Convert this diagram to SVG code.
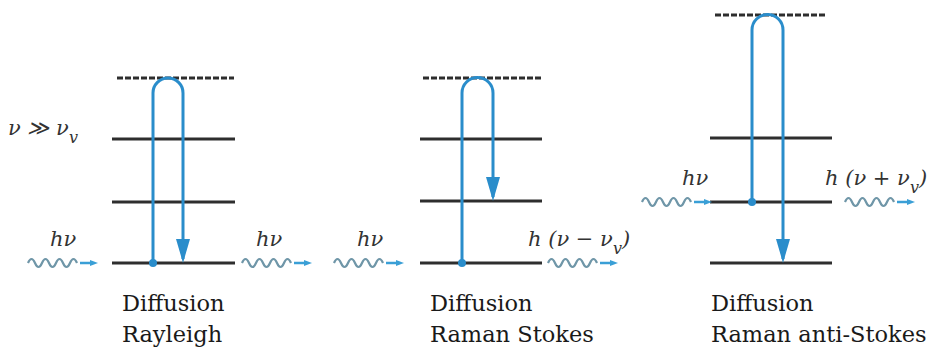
<svg xmlns="http://www.w3.org/2000/svg" width="932" height="351" viewBox="0 0 932 351">
<style>
.lvl{stroke:#2e2e2e;stroke-width:3;fill:none}
.vir{stroke:#2e2e2e;stroke-width:3;stroke-dasharray:6 2;fill:none}
.tr{stroke:#2a8dcb;stroke-width:3;fill:none}
.dot{fill:#2a8dcb}
.wv{stroke:#6f96a8;stroke-width:2.2;fill:none}
.wa{stroke:#3a9fd6;stroke-width:2.5;fill:none}
.lab{font-family:'DejaVu Serif','Liberation Serif','Times New Roman',serif;font-style:italic;font-size:21px;fill:#333}
.cap{font-family:'DejaVu Serif','Liberation Serif','Times New Roman',serif;font-size:22.5px;fill:#1a1a1a}
</style>
<defs>
<marker id="ah" markerUnits="userSpaceOnUse" markerWidth="26" markerHeight="14" refX="20" refY="7" orient="auto">
<path d="M0,0 L24,7 L0,14 z" fill="#2a8dcb"/>
</marker>
<g id="wave">
<path class="wv" d="M0,0 q3.5,-8 7,0 t7,0 t7,0 t7,0 t7,0 t7,0 t7,0"/>
<line class="wa" x1="52" y1="0" x2="64" y2="0"/>
<path d="M62,-3 L70,0 L62,3 z" fill="#3a9fd6"/>
</g>
</defs>

<g id="rayleigh">
<line class="vir" x1="117" y1="78" x2="234" y2="78"/>
<line class="lvl" x1="112" y1="139" x2="235" y2="139"/>
<line class="lvl" x1="112" y1="202" x2="235" y2="202"/>
<line class="lvl" x1="112" y1="263" x2="235" y2="263"/>
<text class="lab" x="8" y="135">ν ≫ ν<tspan font-size="16" dy="8">v</tspan></text>
<text class="lab" x="50" y="246">hν</text>
<text class="lab" x="256" y="246">hν</text>
<text class="cap" x="122" y="311">Diffusion</text>
<text class="cap" x="122" y="342">Rayleigh</text>
</g>

<g id="stokes">
<line class="vir" x1="423" y1="78" x2="542" y2="78"/>
<line class="lvl" x1="420" y1="139" x2="542" y2="139"/>
<line class="lvl" x1="420" y1="201" x2="542" y2="201"/>
<line class="lvl" x1="420" y1="263" x2="542" y2="263"/>
<text class="lab" x="357" y="246">hν</text>
<text class="lab" x="528" y="246">h (ν − ν<tspan font-size="16" dy="8">v</tspan><tspan dy="-8">)</tspan></text>
<text class="cap" x="430" y="311">Diffusion</text>
<text class="cap" x="430" y="342">Raman Stokes</text>
</g>

<g id="antistokes">
<line class="vir" x1="715" y1="15" x2="826" y2="15"/>
<line class="lvl" x1="710" y1="138" x2="832" y2="138"/>
<line class="lvl" x1="710" y1="202" x2="832" y2="202"/>
<line class="lvl" x1="710" y1="263" x2="832" y2="263"/>
<text class="lab" x="682" y="185">hν</text>
<text class="lab" x="825" y="185">h (ν + ν<tspan font-size="16" dy="8">v</tspan><tspan dy="-8">)</tspan></text>
<text class="cap" x="711" y="311">Diffusion</text>
<text class="cap" x="711" y="342">Raman anti-Stokes</text>
</g>

<g id="connectors">
<path class="tr" d="M153,263 V93 A15,15 0 0 1 183,93 V259" marker-end="url(#ah)"/>
<circle class="dot" cx="153" cy="263" r="4"/>
<path class="tr" d="M462,263 V93 A15.5,15.5 0 0 1 493,93 V197" marker-end="url(#ah)"/>
<circle class="dot" cx="462" cy="263" r="4"/>
<path class="tr" d="M752,202 V30 A15.5,15.5 0 0 1 783,30 V259" marker-end="url(#ah)"/>
<circle class="dot" cx="752" cy="202" r="4"/>
<use href="#wave" x="28" y="263"/>
<use href="#wave" x="242" y="263"/>
<use href="#wave" x="334" y="263"/>
<use href="#wave" x="548" y="263"/>
<use href="#wave" x="642" y="202"/>
<use href="#wave" x="845" y="202"/>
</g>
</svg>
